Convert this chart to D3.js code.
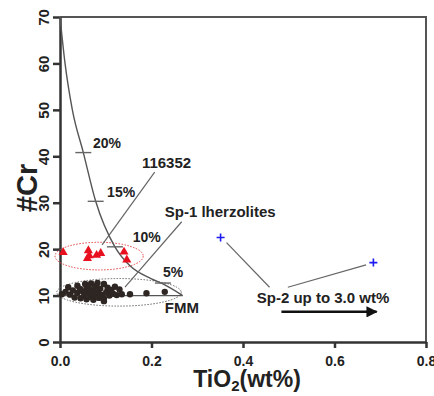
<!DOCTYPE html>
<html>
<head>
<meta charset="utf-8">
<script src="https://cdn.jsdelivr.net/npm/d3@7"></script>
<style>
  body { margin: 0; background: #fff; }
  text { font-family: "Liberation Sans", Arial, sans-serif; font-weight: bold; fill: #222; }
</style>
</head>
<body>
<div id="chart"></div>
<script>
const xTicks = [0, 0.2, 0.4, 0.6, 0.8];
const yTicks = [0, 10, 20, 30, 40, 50, 60, 70];

// melting model curve, FMM -> residue
const meltCurve = [
  [0, 70], [0.011, 60], [0.027, 50], [0.051, 40.8], [0.078, 30.3],
  [0.12, 20.5], [0.153, 16.4], [0.2, 13.6], [0.225, 12.5], [0.268, 10]
];
const meltBase = [[0, 10], [0.268, 10]];
const meltSteps = [
  { label: '20%', x: 0.051, y: 40.8 },
  { label: '15%', x: 0.078, y: 30.3 },
  { label: '10%', x: 0.12, y: 20.5 },
  { label: '5%', x: 0.225, y: 12.7 }
];

// sample 116352 (red triangles)
const sample116352 = [
  [0.007, 19.3], [0.062, 19.7], [0.06, 18.0], [0.064, 18.6],
  [0.08, 18.7], [0.089, 19.1], [0.14, 19.4], [0.146, 17.7]
];

// Sp-1 lherzolites
const sp1 = [
  [0.004, 10.3], [0.012, 10.8], [0.018, 11.8], [0.022, 10.2], [0.028, 11.1],
  [0.032, 9.6], [0.038, 12.1], [0.038, 10.6], [0.044, 11.4], [0.045, 9.4],
  [0.05, 10.9], [0.055, 12.5], [0.053, 10.0], [0.058, 11.7], [0.058, 9.2],
  [0.062, 10.6], [0.064, 11.4], [0.068, 12.6], [0.067, 9.7], [0.071, 10.4],
  [0.073, 11.1], [0.073, 9.1], [0.077, 12.0], [0.079, 10.1], [0.082, 12.7],
  [0.083, 10.8], [0.085, 9.5], [0.088, 11.5], [0.091, 10.2], [0.096, 12.5],
  [0.096, 9.4], [0.096, 8.8], [0.101, 10.7], [0.104, 11.7], [0.108, 10.0],
  [0.112, 11.2], [0.116, 10.4], [0.12, 11.9], [0.124, 10.1], [0.13, 11.3],
  [0.135, 10.3], [0.153, 10.3], [0.189, 10.5], [0.229, 10.8]
];

// Sp-2 (blue crosses)
const sp2 = [[0.351, 22.5], [0.685, 17.1]];

// group outlines: center x, center y, radius x, radius y
const groups = [
  { cx: 0.0855, cy: 18.5, rx: 0.0964, ry: 2.98, color: '#e34040' },
  { cx: 0.129, cy: 10.7, rx: 0.136, ry: 2.97, color: '#666' }
];

const notes = [
  { text: '20%', x: 0.072, y: 42.9, size: 14 },
  { text: '15%', x: 0.103, y: 32.3, size: 14 },
  { text: '10%', x: 0.159, y: 22.6, size: 14 },
  { text: '5%', x: 0.225, y: 15.1, size: 14 },
  { text: 'FMM', x: 0.229, y: 7.5, size: 15 },
  { text: '116352', x: 0.179, y: 38.6, size: 15 },
  { text: 'Sp-1 lherzolites', x: 0.229, y: 28.0, size: 15 },
  { text: 'Sp-2 up to 3.0 wt%', x: 0.43, y: 9.5, size: 15 }
];

const leaders = [
  [[0.207, 36.6], [0.092, 20.9]],
  [[0.266, 25.9], [0.142, 11.8]],
  [[0.364, 21.4], [0.458, 11.8]],
  [[0.498, 11.8], [0.669, 16.6]]
];
const arrow = [[0.484, 6.5], [0.692, 6.5]];

const width = 434;
const height = 396;

const svg = d3.select('#chart')
  .append('svg')
  .attr('width', width)
  .attr('height', height);

const x = d3.scaleLinear().domain([0, 0.8]).range([60, 426]);
const y = d3.scaleLinear().domain([0, 70]).range([342, 17]);

svg.append('defs').append('marker')
  .attr('id', 'head')
  .attr('viewBox', '0 0 10 10')
  .attr('refX', 9).attr('refY', 5)
  .attr('markerWidth', 6).attr('markerHeight', 4.5)
  .attr('orient', 'auto')
  .append('path')
  .attr('d', 'M0,0L10,5L0,10Z')
  .attr('fill', '#111');

// frame top/right
svg.append('path')
  .attr('d', `M${x(0)},${y(70)}H${x(0.8)}V${y(0)}`)
  .attr('fill', 'none')
  .attr('stroke', '#555')
  .attr('stroke-width', 2);

const xAxis = svg.append('g')
  .attr('transform', `translate(0,${y(0)})`)
  .call(d3.axisBottom(x).tickValues(xTicks).tickFormat(d3.format('.1f')).tickSize(6).tickSizeOuter(0).tickPadding(8));
xAxis.selectAll('text').attr('font-size', 14).attr('font-family', null);

const yAxis = svg.append('g')
  .attr('transform', `translate(${x(0)},0)`)
  .call(d3.axisLeft(y).tickValues(yTicks).tickSize(7).tickSizeOuter(0));
yAxis.selectAll('text')
  .attr('font-size', 15)
  .attr('font-family', null)
  .attr('transform', 'rotate(-90)')
  .attr('text-anchor', 'middle')
  .attr('x', 0)
  .attr('y', -11)
  .attr('dy', 0);

svg.selectAll('.domain, .tick line')
  .attr('stroke', '#333')
  .attr('stroke-width', 2.5);

// group ellipses
svg.selectAll('ellipse')
  .data(groups)
  .enter()
  .append('ellipse')
  .attr('cx', d => x(d.cx))
  .attr('cy', d => y(d.cy))
  .attr('rx', d => x(d.rx) - x(0))
  .attr('ry', d => y(0) - y(d.ry))
  .attr('fill', 'none')
  .attr('stroke', d => d.color)
  .attr('stroke-width', 1)
  .attr('stroke-dasharray', '1.5,1.5');

const line = d3.line().x(d => x(d[0])).y(d => y(d[1]));

svg.append('path')
  .attr('d', line.curve(d3.curveMonotoneX)(meltCurve))
  .attr('fill', 'none')
  .attr('stroke', '#555')
  .attr('stroke-width', 1.4);

svg.append('path')
  .attr('d', d3.line().x(d => x(d[0])).y(d => y(d[1]))(meltBase))
  .attr('fill', 'none')
  .attr('stroke', '#555')
  .attr('stroke-width', 1.2);

svg.selectAll('.step')
  .data(meltSteps)
  .enter()
  .append('line')
  .attr('class', 'step')
  .attr('x1', d => x(d.x) - 8)
  .attr('x2', d => x(d.x) + 8)
  .attr('y1', d => y(d.y))
  .attr('y2', d => y(d.y))
  .attr('stroke', '#666')
  .attr('stroke-width', 1.4);

// leader lines
svg.selectAll('.leader')
  .data(leaders)
  .enter()
  .append('path')
  .attr('class', 'leader')
  .attr('d', d => d3.line().x(p => x(p[0])).y(p => y(p[1]))(d))
  .attr('stroke', '#666')
  .attr('stroke-width', 1.2);

svg.append('path')
  .attr('d', d3.line().x(p => x(p[0])).y(p => y(p[1]))(arrow))
  .attr('stroke', '#111')
  .attr('stroke-width', 2.5)
  .attr('marker-end', 'url(#head)');

// Sp-1 dots
svg.selectAll('.sp1')
  .data(sp1)
  .enter()
  .append('circle')
  .attr('class', 'sp1')
  .attr('cx', d => x(d[0]))
  .attr('cy', d => y(d[1]))
  .attr('r', 3.2)
  .attr('fill', '#2e2622');

// 116352 triangles
svg.selectAll('.s116')
  .data(sample116352)
  .enter()
  .append('path')
  .attr('class', 's116')
  .attr('transform', d => `translate(${x(d[0])},${y(d[1])})`)
  .attr('d', d3.symbol().type(d3.symbolTriangle).size(36))
  .attr('fill', '#e8101e');

// Sp-2 crosses
svg.selectAll('.sp2')
  .data(sp2)
  .enter()
  .append('path')
  .attr('class', 'sp2')
  .attr('transform', d => `translate(${x(d[0])},${y(d[1])})`)
  .attr('d', 'M-4,0H4M0,-4V4')
  .attr('stroke', '#1c1cf0')
  .attr('stroke-width', 1.6);

svg.selectAll('.note')
  .data(notes)
  .enter()
  .append('text')
  .attr('class', 'note')
  .attr('x', d => x(d.x))
  .attr('y', d => y(d.y))
  .attr('dy', '0.36em')
  .attr('font-size', d => d.size)
  .text(d => d.text);

// axis titles
const xt = svg.append('text')
  .attr('x', 247)
  .attr('y', 387)
  .attr('text-anchor', 'middle')
  .attr('font-size', 23);
xt.append('tspan').text('TiO');
xt.append('tspan').attr('font-size', 15).attr('dy', 4).text('2');
xt.append('tspan').attr('dy', -4).text('(wt%)');

svg.append('text')
  .attr('transform', 'translate(37,188) rotate(-90)')
  .attr('text-anchor', 'middle')
  .attr('font-size', 29)
  .text('#Cr');
</script>
</body>
</html>
